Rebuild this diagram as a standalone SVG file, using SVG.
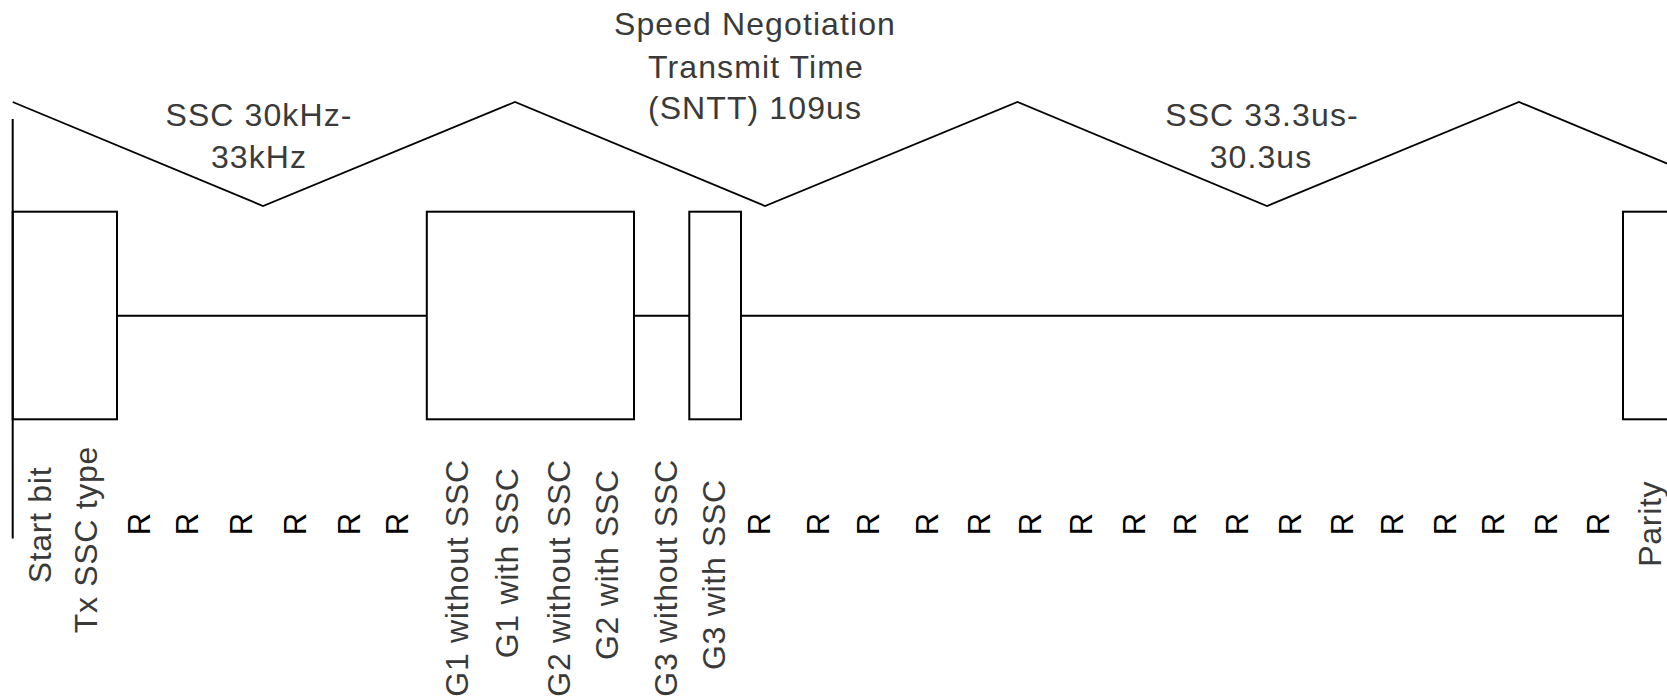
<svg xmlns="http://www.w3.org/2000/svg" width="1667" height="699" viewBox="0 0 1667 699">
<style>
.ln{fill:none;stroke:#000;stroke-width:2}
.wv{fill:none;stroke:#000;stroke-width:1.8;stroke-linejoin:miter}
.top{font-family:"Liberation Sans",Arial,sans-serif;font-size:32px;fill:#3a3a3a;letter-spacing:1.1px;text-anchor:middle}
.vl{font-family:"Liberation Sans",Arial,sans-serif;font-size:32px;fill:#3a3a3a;letter-spacing:0.7px}
.r{font-family:"Liberation Sans",Arial,sans-serif;font-size:31px;fill:#000;text-anchor:middle}
</style>
<rect width="1667" height="699" fill="#fff"/>
<g id="waveform">
<path class="wv" d="M12.7,102 L263,206 L515,102 L765,206 L1017.5,102 L1267,206 L1519,102 L1769,206"/>
<line class="ln" x1="12.7" y1="119" x2="12.7" y2="538.5"/>
</g>
<g id="top-labels">
<text class="top" x="259" y="126">SSC 30kHz-</text>
<text class="top" x="259" y="168">33kHz</text>
<text class="top" x="755" y="35">Speed Negotiation</text>
<text class="top" x="756" y="78">Transmit Time</text>
<text class="top" x="755" y="119">(SNTT) 109us</text>
<text class="top" x="1262" y="126">SSC 33.3us-</text>
<text class="top" x="1261" y="168">30.3us</text>
</g>
<g id="node-start"><rect class="ln" x="12.7" y="211.7" width="104.3" height="207.6"/></g>
<g id="node-g1g2"><rect class="ln" x="426.8" y="211.7" width="207.2" height="207.6"/></g>
<g id="node-g3"><rect class="ln" x="689.3" y="211.7" width="51.7" height="207.6"/></g>
<g id="node-parity"><rect class="ln" x="1623" y="211.7" width="60" height="207.6"/></g>
<g id="connectors">
<line class="ln" x1="117" y1="315.7" x2="426.8" y2="315.7"/>
<line class="ln" x1="634" y1="315.7" x2="689.3" y2="315.7"/>
<line class="ln" x1="741" y1="315.7" x2="1623" y2="315.7"/>
</g>
<g id="bit-labels">
<text class="vl" transform="translate(50.7,583.3) rotate(-90)">Start bit</text>
<text class="vl" transform="translate(96.7,633.3) rotate(-90)">Tx SSC type</text>
<text class="vl" transform="translate(468.3,696.7) rotate(-90)">G1 without SSC</text>
<text class="vl" transform="translate(518.3,658.3) rotate(-90)">G1 with SSC</text>
<text class="vl" transform="translate(570,696.7) rotate(-90)">G2 without SSC</text>
<text class="vl" transform="translate(618.3,660) rotate(-90)">G2 with SSC</text>
<text class="vl" transform="translate(676.7,696.7) rotate(-90)">G3 without SSC</text>
<text class="vl" transform="translate(725,670) rotate(-90)">G3 with SSC</text>
<text class="vl" transform="translate(1661,566.7) rotate(-90)">Parity</text>
</g>
<g id="reserved-labels">
<text class="r" transform="translate(150,524) rotate(-90)">R</text>
<text class="r" transform="translate(198,524) rotate(-90)">R</text>
<text class="r" transform="translate(252,524) rotate(-90)">R</text>
<text class="r" transform="translate(306,524) rotate(-90)">R</text>
<text class="r" transform="translate(360,524) rotate(-90)">R</text>
<text class="r" transform="translate(408,524) rotate(-90)">R</text>
<text class="r" transform="translate(770,524) rotate(-90)">R</text>
<text class="r" transform="translate(829,524) rotate(-90)">R</text>
<text class="r" transform="translate(879,524) rotate(-90)">R</text>
<text class="r" transform="translate(938,524) rotate(-90)">R</text>
<text class="r" transform="translate(990,524) rotate(-90)">R</text>
<text class="r" transform="translate(1041,524) rotate(-90)">R</text>
<text class="r" transform="translate(1092,524) rotate(-90)">R</text>
<text class="r" transform="translate(1145,524) rotate(-90)">R</text>
<text class="r" transform="translate(1196,524) rotate(-90)">R</text>
<text class="r" transform="translate(1248,524) rotate(-90)">R</text>
<text class="r" transform="translate(1301,524) rotate(-90)">R</text>
<text class="r" transform="translate(1353,524) rotate(-90)">R</text>
<text class="r" transform="translate(1403,524) rotate(-90)">R</text>
<text class="r" transform="translate(1456,524) rotate(-90)">R</text>
<text class="r" transform="translate(1504,524) rotate(-90)">R</text>
<text class="r" transform="translate(1557,524) rotate(-90)">R</text>
<text class="r" transform="translate(1609,524) rotate(-90)">R</text>
</g>
</svg>
